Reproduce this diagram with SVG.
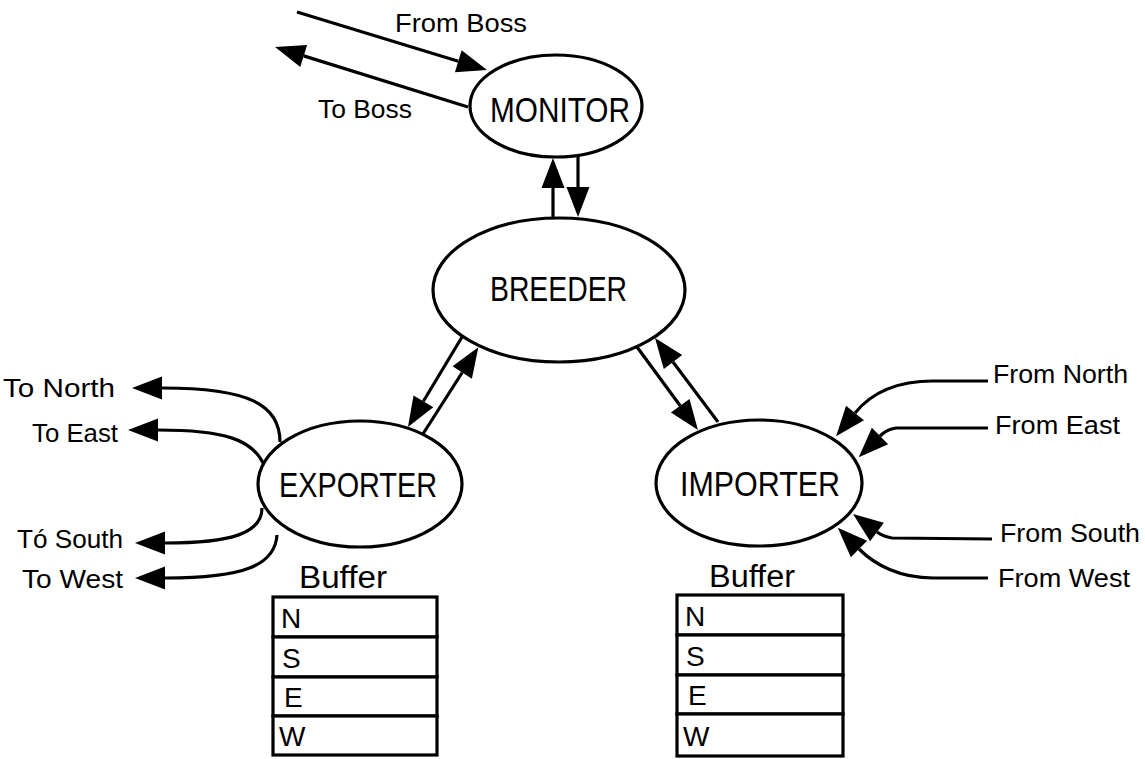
<svg xmlns="http://www.w3.org/2000/svg" width="1145" height="759" viewBox="0 0 1145 759">
  <style>
    .node { fill: #fff; stroke: #000; stroke-width: 3.2; }
    .title { font-family: "Liberation Sans", Arial, sans-serif; font-size: 35px; fill: #000; }
    .lbl { font-family: "Liberation Sans", Arial, sans-serif; font-size: 25px; fill: #000; }
    .buf { font-family: "Liberation Sans", Arial, sans-serif; font-size: 31px; fill: #000; }
    .cell { font-family: "Liberation Sans", Arial, sans-serif; font-size: 28px; fill: #000; }
    .edge { fill: none; stroke: #000; stroke-width: 3.2; marker-end: url(#head); }
    .box { fill: #fff; stroke: #000; stroke-width: 3.2; }
  </style>
  <defs>
    <!-- solid arrowhead; the path ends at the head's base -->
    <marker id="head" markerUnits="userSpaceOnUse" markerWidth="32" markerHeight="24" refX="0" refY="11.5" orient="auto" overflow="visible">
      <path d="M0,0 L30,11.5 L0,23 Z" fill="#000"/>
    </marker>
  </defs>

  <rect width="1145" height="759" fill="#fff"/>

  <g id="connectors">
    <!-- boss link -->
    <path class="edge" d="M297,12 L458.3,61.2"/>
    <path class="edge" d="M468,107 L303.7,55.9"/>
    <!-- monitor / breeder -->
    <path class="edge" d="M553,218 L553,188"/>
    <path class="edge" d="M578,156 L578,187"/>
    <!-- breeder / exporter -->
    <path class="edge" d="M462,337 L423.4,401.3"/>
    <path class="edge" d="M421,437 L462.2,372.5"/>
    <!-- breeder / importer -->
    <path class="edge" d="M637,347 L680.2,405.8"/>
    <path class="edge" d="M718,422 L673,362"/>
    <!-- exporter outputs -->
    <path class="edge" d="M280,442 C280,405 250,388 162,388"/>
    <path class="edge" d="M263,463 C252,440 225,430 158,430"/>
    <path class="edge" d="M262,508 C262,533 232,543 165,543"/>
    <path class="edge" d="M277,535 C275,565 245,578 165,578"/>
    <!-- importer inputs -->
    <path class="edge" d="M988,381 L933,381 C897,381 872,392 855,413"/>
    <path class="edge" d="M988,428 L896,428 C889,429 884,432 880,436"/>
    <path class="edge" d="M992,539 L892,538 C886,537 881,535 877,532"/>
    <path class="edge" d="M988,578 L933,578 C900,578 875,565 859,549"/>
  </g>

  <g id="monitor">
    <ellipse class="node" cx="556" cy="106" rx="86" ry="51"/>
    <text class="title" x="490" y="122" textLength="140" lengthAdjust="spacingAndGlyphs">MONITOR</text>
  </g>

  <g id="breeder">
    <ellipse class="node" cx="559" cy="290" rx="126" ry="72"/>
    <text class="title" x="490" y="301" textLength="137" lengthAdjust="spacingAndGlyphs">BREEDER</text>
  </g>

  <g id="exporter">
    <ellipse class="node" cx="360" cy="484" rx="102" ry="63"/>
    <text class="title" x="279" y="497" textLength="158" lengthAdjust="spacingAndGlyphs">EXPORTER</text>
  </g>

  <g id="importer">
    <ellipse class="node" cx="759" cy="483" rx="103" ry="63"/>
    <text class="title" x="680" y="496" textLength="160" lengthAdjust="spacingAndGlyphs">IMPORTER</text>
  </g>

  <g id="boss-labels">
    <text class="lbl" x="395" y="32" textLength="132" lengthAdjust="spacingAndGlyphs">From Boss</text>
    <text class="lbl" x="318" y="118" textLength="94" lengthAdjust="spacingAndGlyphs">To Boss</text>
  </g>

  <g id="exporter-labels">
    <text class="lbl" x="3" y="397" textLength="112" lengthAdjust="spacingAndGlyphs">To North</text>
    <text class="lbl" x="32" y="442" textLength="86" lengthAdjust="spacingAndGlyphs">To East</text>
    <text class="lbl" x="17" y="548" textLength="106" lengthAdjust="spacingAndGlyphs">Tó South</text>
    <text class="lbl" x="22" y="588" textLength="101" lengthAdjust="spacingAndGlyphs">To West</text>
  </g>

  <g id="importer-labels">
    <text class="lbl" x="993" y="383" textLength="135" lengthAdjust="spacingAndGlyphs">From North</text>
    <text class="lbl" x="995" y="434" textLength="125" lengthAdjust="spacingAndGlyphs">From East</text>
    <text class="lbl" x="1000" y="542" textLength="140" lengthAdjust="spacingAndGlyphs">From South</text>
    <text class="lbl" x="998" y="587" textLength="132" lengthAdjust="spacingAndGlyphs">From West</text>
  </g>

  <g id="exporter-buffer">
    <text class="buf" x="299" y="588" textLength="88" lengthAdjust="spacingAndGlyphs">Buffer</text>
    <rect class="box" x="273" y="597" width="164" height="40"/>
    <rect class="box" x="273" y="637" width="164" height="40"/>
    <rect class="box" x="273" y="677" width="164" height="39"/>
    <rect class="box" x="273" y="716" width="164" height="39"/>
    <text class="cell" x="281" y="628">N</text>
    <text class="cell" x="282" y="668">S</text>
    <text class="cell" x="284" y="707">E</text>
    <text class="cell" x="279" y="746">W</text>
  </g>

  <g id="importer-buffer">
    <text class="buf" x="709" y="587" textLength="86" lengthAdjust="spacingAndGlyphs">Buffer</text>
    <rect class="box" x="677" y="595" width="166" height="40"/>
    <rect class="box" x="677" y="635" width="166" height="40"/>
    <rect class="box" x="677" y="675" width="166" height="39"/>
    <rect class="box" x="677" y="714" width="166" height="42"/>
    <text class="cell" x="685" y="626">N</text>
    <text class="cell" x="686" y="666">S</text>
    <text class="cell" x="688" y="705">E</text>
    <text class="cell" x="683" y="746">W</text>
  </g>
</svg>
